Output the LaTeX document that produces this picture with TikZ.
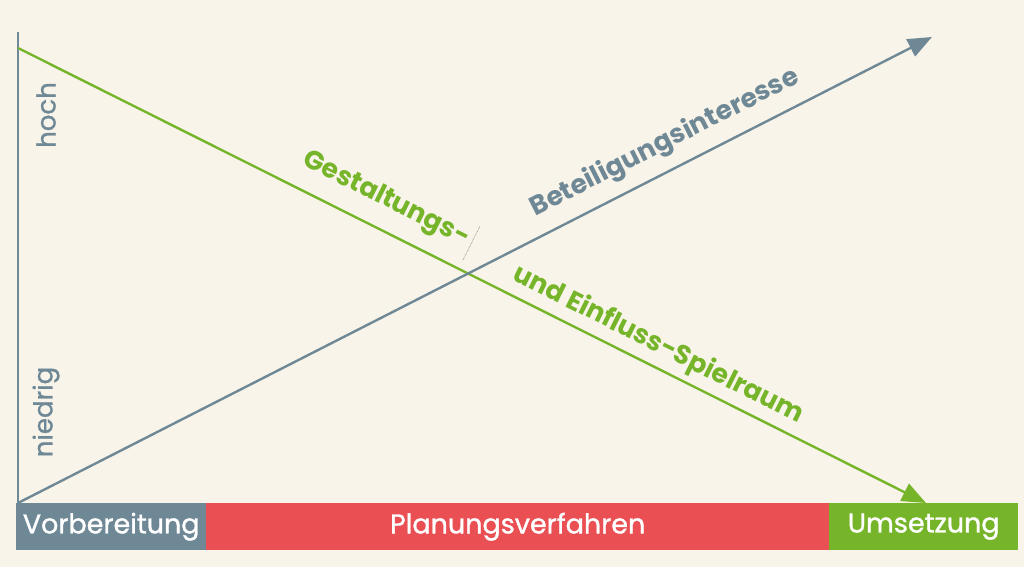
\documentclass[tikz,border=0pt]{standalone}
\usepackage{fontspec}
\setmainfont{Poppins}
\usetikzlibrary{arrows.meta}
\definecolor{bgc}{HTML}{F8F4EA}
\definecolor{greyc}{HTML}{6F8896}
\definecolor{greenc}{HTML}{76B52A}
\definecolor{redc}{HTML}{E94F53}
\tikzset{
  barbox/.style={draw=none, inner sep=0pt, minimum height=47pt, text=white, font=\fontsize{27}{27}\selectfont\addfontfeature{FakeBold=1.2}},
  axislabel/.style={text=greyc, rotate=90, font=\fontsize{26}{26}\selectfont\addfontfeature{FakeBold=1}, inner sep=0pt},
  curvelabel/.style={font=\bfseries\fontsize{26.5}{26.5}\selectfont, inner sep=0pt},
  trendline/.style={line width=2.4pt, -{Triangle[length=24pt,width=19pt]}},
}
\begin{document}
\begin{tikzpicture}[x=1pt,y=-1pt]
\fill[bgc] (0,0) rectangle (1024,567);
\useasboundingbox (0,0) rectangle (1024,567);
% coordinates
\coordinate (axtop) at (18,32);
\coordinate (origin) at (18,503);
\coordinate (gstart) at (18,48);
\coordinate (gend) at (926,503);
\coordinate (bend) at (932,37);
\coordinate (dA) at (463,260);
\coordinate (dB) at (480,226);
% bars
\node[barbox, fill=greyc, minimum width=190pt, anchor=north west] (vor) at (16,503) {Vorbereitung};
\node[barbox, fill=redc, minimum width=623pt, anchor=north west] (plan) at (206,503) {Planungsverfahren};
\node[barbox, fill=greenc, minimum width=189pt, anchor=north west] (ums) at (829,503) {Umsetzung};
% axis
\draw[greyc, line width=2.6pt] (origin) -- (axtop);
% lines
\draw[trendline, greenc] (gstart) -- (gend);
\draw[trendline, greyc] (origin) -- (bend);
% small dotted mark
\draw[black!70, line width=0.5pt, densely dotted] (dA) -- (dB);
% axis labels
\node[axislabel] (hoch) at (46,115) {hoch};
\node[axislabel] (niedrig) at (46,412) {niedrig};
% curve labels
\node[curvelabel, text=greenc, rotate=-26.6] (gest) at (386,200) {Gestaltungs-};
\node[curvelabel, text=greenc, rotate=-26.6] (einfl) at (658,345) {und Einfluss-Spielraum};
\node[curvelabel, text=greyc, rotate=26.9] (beteil) at (665,143) {Beteiligungsinteresse};
\end{tikzpicture}
\end{document}
